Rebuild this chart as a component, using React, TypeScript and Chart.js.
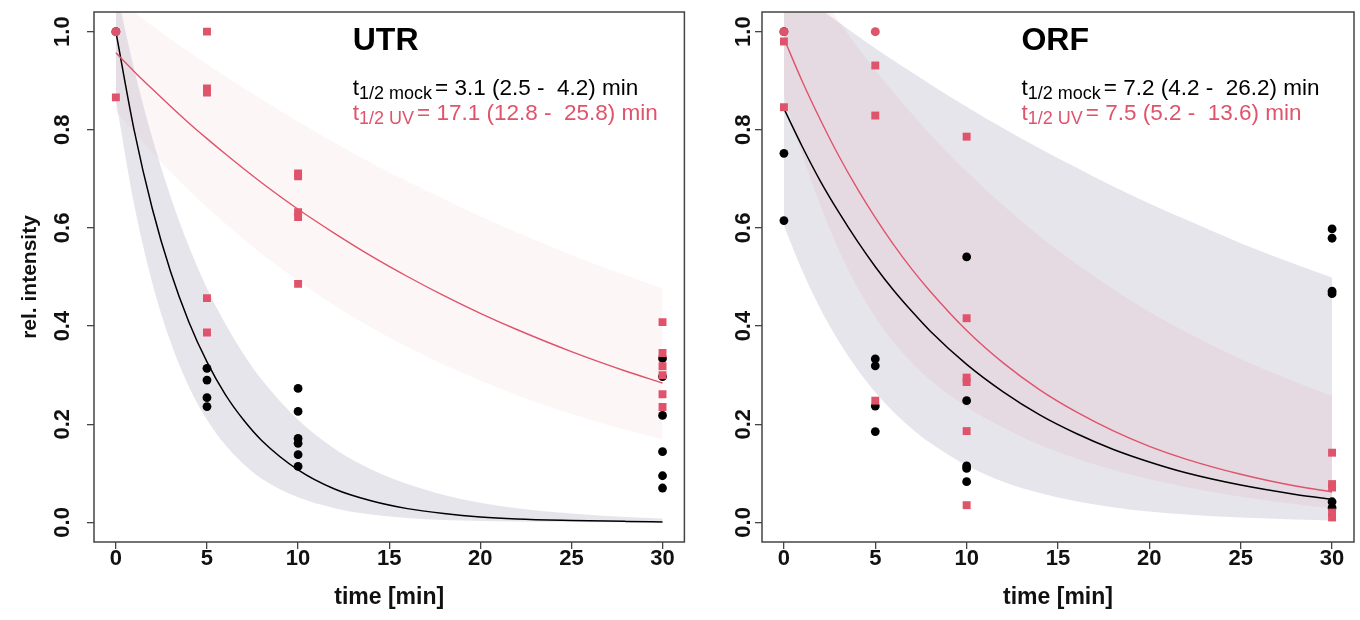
import React, { useEffect, useRef } from 'react';
import { Chart, registerables } from 'chart.js';

Chart.register(...registerables);

// ---------- tick labels ----------
const xTicks = [0, 5, 10, 15, 20, 25, 30];
const yTicks = [0, 0.2, 0.4, 0.6, 0.8, 1.0];
const yTickLabels = ['0.0', '0.2', '0.4', '0.6', '0.8', '1.0'];

// ---------- text ----------
const panelTitles = ['UTR', 'ORF'];
const mockHalfLife = ['3.1 (2.5 -  4.2)', '7.2 (4.2 -  26.2)'];
const uvHalfLife = ['17.1 (12.8 -  25.8)', '7.5 (5.2 -  13.6)'];

// ---------- UTR measured points ----------
const utrMockT = [0, 5, 5, 5, 5, 10, 10, 10, 10, 10, 10, 30, 30, 30, 30, 30, 30];
const utrMockY = [1.0, 0.314, 0.290, 0.254, 0.236, 0.273, 0.226, 0.171, 0.161, 0.138, 0.114, 0.334, 0.297, 0.218, 0.144, 0.095, 0.070];
const utrUvT = [0, 5, 5, 5, 5, 5, 10, 10, 10, 10, 10, 30, 30, 30, 30, 30, 30];
const utrUvY = [0.866, 1.0, 0.884, 0.876, 0.457, 0.387, 0.711, 0.705, 0.632, 0.622, 0.486, 0.408, 0.345, 0.318, 0.300, 0.261, 0.235];
const utrNormT = [0];
const utrNormY = [1.0];

// ---------- ORF measured points ----------
const orfMockT = [0, 0, 0, 5, 5, 5, 5, 10, 10, 10, 10, 10, 30, 30, 30, 30, 30, 30];
const orfMockY = [1.0, 0.752, 0.615, 0.333, 0.319, 0.237, 0.185, 0.541, 0.248, 0.115, 0.110, 0.083, 0.598, 0.579, 0.471, 0.466, 0.042, 0.030];
const orfUvT = [0, 0, 5, 5, 5, 10, 10, 10, 10, 10, 10, 30, 30, 30, 30, 30];
const orfUvY = [0.980, 0.846, 0.931, 0.829, 0.248, 0.786, 0.416, 0.295, 0.286, 0.186, 0.035, 0.142, 0.078, 0.071, 0.020, 0.010];
const orfNormT = [0, 5];
const orfNormY = [1.0, 1.0];

// ---------- fitted curves & confidence bands ----------
const fitT = [0, 1, 2, 3, 4, 5, 6, 7, 8, 10, 12, 14, 16, 18, 20, 22, 25, 28, 30];

const utrMockFit = [1.0, 0.800, 0.639, 0.511, 0.409, 0.327, 0.261, 0.209, 0.167, 0.107, 0.068, 0.044, 0.028, 0.018, 0.011, 0.007, 0.004, 0.002, 0.001];
const utrUvFit = [0.957, 0.919, 0.883, 0.848, 0.814, 0.782, 0.751, 0.721, 0.692, 0.638, 0.589, 0.543, 0.501, 0.462, 0.426, 0.393, 0.348, 0.308, 0.284];
const utrMockUpper = [1.09, 0.924, 0.783, 0.664, 0.563, 0.477, 0.405, 0.343, 0.291, 0.209, 0.150, 0.108, 0.078, 0.056, 0.040, 0.029, 0.018, 0.011, 0.008];
const utrMockLower = [0.86, 0.648, 0.488, 0.368, 0.277, 0.209, 0.158, 0.119, 0.089, 0.051, 0.029, 0.016, 0.009, 0.005, 0.003, 0.002, 0.001, 0.0004, 0.0002];
const utrUvUpper = [1.068, 1.040, 1.012, 0.985, 0.959, 0.934, 0.909, 0.885, 0.862, 0.817, 0.774, 0.733, 0.695, 0.659, 0.624, 0.591, 0.545, 0.503, 0.477];
const utrUvLower = [0.838, 0.794, 0.753, 0.714, 0.677, 0.642, 0.609, 0.577, 0.547, 0.492, 0.442, 0.397, 0.357, 0.321, 0.289, 0.259, 0.221, 0.188, 0.169];

const orfMockFit = [0.843, 0.766, 0.695, 0.632, 0.574, 0.521, 0.473, 0.430, 0.390, 0.322, 0.266, 0.219, 0.181, 0.149, 0.123, 0.101, 0.076, 0.057, 0.047];
const orfUvFit = [0.986, 0.899, 0.820, 0.747, 0.681, 0.621, 0.566, 0.516, 0.471, 0.391, 0.325, 0.270, 0.225, 0.187, 0.155, 0.129, 0.098, 0.074, 0.062];
const orfMockUpper = [1.103, 1.074, 1.046, 1.019, 0.992, 0.966, 0.941, 0.917, 0.893, 0.847, 0.803, 0.762, 0.723, 0.685, 0.650, 0.617, 0.569, 0.526, 0.499];
const orfMockLower = [0.605, 0.513, 0.435, 0.369, 0.313, 0.265, 0.225, 0.191, 0.162, 0.116, 0.083, 0.060, 0.043, 0.031, 0.022, 0.016, 0.010, 0.006, 0.004];
const orfUvUpper = [1.19, 1.131, 1.075, 1.021, 0.970, 0.922, 0.876, 0.833, 0.791, 0.715, 0.646, 0.583, 0.527, 0.476, 0.429, 0.388, 0.333, 0.286, 0.258];
const orfUvLower = [0.87, 0.75, 0.645, 0.555, 0.48, 0.418, 0.367, 0.325, 0.29, 0.235, 0.193, 0.158, 0.13, 0.107, 0.088, 0.072, 0.052, 0.037, 0.029];

// ---------- styling ----------
const FONT = '"Liberation Sans", Arial, Helvetica, sans-serif';
const RED = '#DF536B';
const BLACK = '#000000';
const GREY_BAND = 'rgba(160,150,180,0.25)';
const AXIS = '#444444';
const TEXT_X = 13.0;
const TITLE_Y = 0.962;
const LINE1_Y = 0.870;
const LINE2_Y = 0.819;

const zip = (xs: number[], ys: number[]) => xs.map((x, i) => ({ x, y: ys[i] }));

type PanelSpec = {
  idx: number;
  mockT: number[]; mockY: number[];
  uvT: number[]; uvY: number[];
  normT: number[]; normY: number[];
  mockFit: number[]; uvFit: number[];
  mockUpper: number[]; mockLower: number[];
  uvUpper: number[]; uvLower: number[];
  pinkBand: string;
  yAxisWidth: number;
  yLabelGap: number;
  padRight: number;
  yTitle: boolean;
};

function drawHalfLife(ctx: CanvasRenderingContext2D, x: number, y: number, sub: string, value: string, color: string) {
  ctx.fillStyle = color;
  ctx.font = `22.5px ${FONT}`;
  ctx.fillText('t', x, y);
  x += ctx.measureText('t').width;
  ctx.font = `18px ${FONT}`;
  const s = '1/2 ' + sub;
  ctx.fillText(s, x, y + 4);
  x += ctx.measureText(s).width + 3;
  ctx.font = `22.5px ${FONT}`;
  ctx.fillText(`= ${value} min`, x, y);
}

function makePlugin(spec: PanelSpec) {
  return {
    id: 'panelDeco' + spec.idx,
    afterDraw(chart: any) {
      const { ctx, chartArea: a, scales } = chart;
      ctx.save();
      ctx.strokeStyle = AXIS;
      ctx.lineWidth = 1.5;
      ctx.strokeRect(a.left, a.top, a.right - a.left, a.bottom - a.top);

      ctx.fillStyle = '#111';
      ctx.font = `bold 22px ${FONT}`;
      ctx.textAlign = 'center';
      ctx.textBaseline = 'middle';
      yTicks.forEach((v, i) => {
        const py = scales.y.getPixelForValue(v);
        ctx.save();
        ctx.translate(a.left - spec.yLabelGap, py);
        ctx.rotate(-Math.PI / 2);
        ctx.fillText(yTickLabels[i], 0, 0);
        ctx.restore();
      });

      ctx.textAlign = 'left';
      ctx.textBaseline = 'alphabetic';
      const tx = scales.x.getPixelForValue(TEXT_X);
      ctx.fillStyle = '#000';
      ctx.font = `bold 32px ${FONT}`;
      ctx.fillText(panelTitles[spec.idx], tx, scales.y.getPixelForValue(TITLE_Y));
      drawHalfLife(ctx, tx, scales.y.getPixelForValue(LINE1_Y), 'mock', mockHalfLife[spec.idx], BLACK);
      drawHalfLife(ctx, tx, scales.y.getPixelForValue(LINE2_Y), 'UV', uvHalfLife[spec.idx], RED);
      ctx.restore();
    },
  };
}

function Panel({ spec, left, width }: { spec: PanelSpec; left: number; width: number }) {
  const ref = useRef<HTMLCanvasElement | null>(null);
  useEffect(() => {
    if (!ref.current) return;
    const band = (ys: number[], color: string, fillTarget: number | false) => ({
      data: zip(fitT, ys),
      showLine: true,
      borderWidth: 0,
      borderColor: 'rgba(0,0,0,0)',
      backgroundColor: color,
      pointRadius: 0,
      fill: fillTarget,
      cubicInterpolationMode: 'monotone' as const,
      clip: 0,
    });
    const chart = new Chart(ref.current, {
      type: 'line',
      data: {
        datasets: [
          { data: zip(spec.normT, spec.normY), showLine: false, pointStyle: 'circle', pointRadius: 4.5, pointBackgroundColor: RED, pointBorderWidth: 0, borderColor: RED } as any,
          { data: zip(spec.uvT, spec.uvY), showLine: false, pointStyle: 'rect', pointRadius: 5.6, pointBackgroundColor: RED, pointBorderWidth: 0, borderColor: RED } as any,
          { data: zip(spec.mockT, spec.mockY), showLine: false, pointStyle: 'circle', pointRadius: 4.4, pointBackgroundColor: BLACK, pointBorderWidth: 0, borderColor: BLACK } as any,
          { data: zip(fitT, spec.uvFit), showLine: true, borderColor: RED, borderWidth: 1.4, pointRadius: 0, fill: false, cubicInterpolationMode: 'monotone', clip: 0 } as any,
          { data: zip(fitT, spec.mockFit), showLine: true, borderColor: BLACK, borderWidth: 1.5, pointRadius: 0, fill: false, cubicInterpolationMode: 'monotone', clip: 0 } as any,
          band(spec.uvUpper, spec.pinkBand, 6) as any,
          band(spec.uvLower, spec.pinkBand, false) as any,
          band(spec.mockUpper, GREY_BAND, 8) as any,
          band(spec.mockLower, GREY_BAND, false) as any,
        ],
      },
      options: {
        responsive: false,
        animation: false,
        devicePixelRatio: 1,
        layout: { padding: { top: 12, right: spec.padRight, left: 0, bottom: 0 } },
        plugins: {
          legend: { display: false },
          tooltip: { enabled: false },
          filler: { propagate: false },
        },
        elements: { line: { tension: 0 } },
        scales: {
          x: {
            type: 'linear',
            min: -1.2,
            max: 31.2,
            afterBuildTicks: (s: any) => { s.ticks = xTicks.map((v) => ({ value: v })); },
            afterFit: (s: any) => { s.height = 78; },
            ticks: {
              font: { family: FONT, size: 22, weight: 'bold' },
              color: '#111',
              padding: -3,
              maxRotation: 0,
              minRotation: 0,
              callback: (v: any) => String(v),
            },
            grid: { drawOnChartArea: false, drawTicks: true, tickLength: 7, color: AXIS, lineWidth: 1.3 },
            border: { display: false },
            title: {
              display: true,
              text: 'time [min]',
              color: '#111',
              font: { family: FONT, size: 23, weight: 'bold' },
              padding: { top: 0, bottom: 9 },
            },
          },
          y: {
            type: 'linear',
            min: -0.04,
            max: 1.04,
            afterBuildTicks: (s: any) => { s.ticks = yTicks.map((v) => ({ value: v })); },
            afterFit: (s: any) => { s.width = spec.yAxisWidth; },
            ticks: { display: false },
            grid: { drawOnChartArea: false, drawTicks: true, tickLength: 7, color: AXIS, lineWidth: 1.3 },
            border: { display: false },
            title: {
              display: spec.yTitle,
              text: 'rel. intensity',
              color: '#111',
              font: { family: FONT, size: 21, weight: 'bold' },
              padding: { top: 18, bottom: 0 },
            },
          },
        },
      } as any,
      plugins: [makePlugin(spec)],
    });
    return () => chart.destroy();
  }, [spec]);
  return (
    <canvas
      ref={ref}
      width={width}
      height={620}
      style={{ position: 'absolute', left, top: 0, width, height: 620, display: 'block' }}
    />
  );
}

const utrSpec: PanelSpec = {
  idx: 0,
  mockT: utrMockT, mockY: utrMockY,
  uvT: utrUvT, uvY: utrUvY,
  normT: utrNormT, normY: utrNormY,
  mockFit: utrMockFit, uvFit: utrUvFit,
  mockUpper: utrMockUpper, mockLower: utrMockLower,
  uvUpper: utrUvUpper, uvLower: utrUvLower,
  pinkBand: 'rgba(223,83,107,0.05)',
  yAxisWidth: 94,
  yLabelGap: 31,
  padRight: 5,
  yTitle: true,
};

const orfSpec: PanelSpec = {
  idx: 1,
  mockT: orfMockT, mockY: orfMockY,
  uvT: orfUvT, uvY: orfUvY,
  normT: orfNormT, normY: orfNormY,
  mockFit: orfMockFit, uvFit: orfUvFit,
  mockUpper: orfMockUpper, mockLower: orfMockLower,
  uvUpper: orfUvUpper, uvLower: orfUvLower,
  pinkBand: 'rgba(223,83,107,0.08)',
  yAxisWidth: 82,
  yLabelGap: 18,
  padRight: 6,
  yTitle: false,
};

export default function App() {
  return (
    <div style={{ position: 'absolute', left: 0, top: 0, width: 1360, height: 620, background: '#ffffff', overflow: 'hidden' }}>
      <Panel spec={utrSpec} left={0} width={690} />
      <Panel spec={orfSpec} left={680} width={680} />
    </div>
  );
}
